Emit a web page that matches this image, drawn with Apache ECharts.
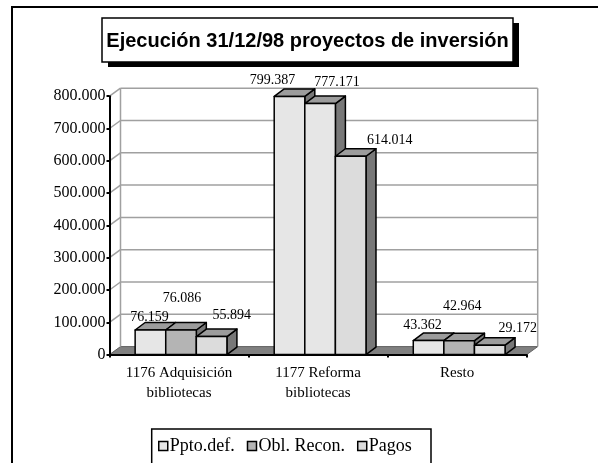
<!DOCTYPE html>
<html>
<head>
<meta charset="utf-8">
<script src="https://cdn.jsdelivr.net/npm/echarts@6/dist/echarts.min.js"></script>
<style>
html, body { margin: 0; padding: 0; background: #fff; }
#container { width: 598px; height: 463px; }
</style>
</head>
<body>
<div id="container"></div>
<script>
// data
var categories = ['1176 Adquisición\nbibliotecas', '1177 Reforma\nbibliotecas', 'Resto'];
var seriesNames = ['Ppto.def.', 'Obl. Recon.', 'Pagos'];
var pptoDef = [76159, 799387, 43362];
var oblRecon = [76086, 777171, 42964];
var pagos = [55894, 614014, 29172];
var yTicks = [0, 100000, 200000, 300000, 400000, 500000, 600000, 700000, 800000];
var titleText = 'Ejecución 31/12/98 proyectos de inversión';

// look
var serif = '"Liberation Serif", "Times New Roman", serif';
var frontColors = [
    ['#e6e6e6', '#e6e6e6', '#e6e6e6'],
    ['#b4b4b4', '#e6e6e6', '#b4b4b4'],
    ['#dcdcdc', '#dcdcdc', '#dcdcdc']
];
var topColor = '#9c9c9c';
var sideColor = '#787878';
// label shift from the top centre of each bar front, per series / category
var labelShift = [
    [[-1, -13], [-17, -16], [-6, -15]],
    [[1, -32], [17, -21], [3, -34]],
    [[20, -21], [39, -16], [28, -17]]
];
var WALL_DX = 11, WALL_DY = -8;
var BAR_DX = 10, BAR_DY = -7.5;

function fmt(v) {
    return String(v).replace(/\B(?=(\d{3})+(?!\d))/g, '.');
}

var dom = document.getElementById('container');
var myChart = echarts.init(dom, null, {renderer: 'canvas'});

function renderWalls(params, api) {
    var cs = params.coordSys;
    var x0 = cs.x, x1 = cs.x + cs.width;
    var y0 = api.coord([0, 0])[1];
    var yTop = api.coord([0, yTicks[yTicks.length - 1]])[1];
    var line = {stroke: '#a0a0a0', lineWidth: 1.5};
    var children = [];
    children.push({
        type: 'polygon',
        shape: {points: [[x0, y0], [x1, y0], [x1 + WALL_DX, y0 + WALL_DY], [x0 + WALL_DX, y0 + WALL_DY]]},
        style: {fill: '#808080', stroke: '#606060', lineWidth: 1}
    });
    children.push({
        type: 'line',
        shape: {x1: x0 + WALL_DX, y1: y0 + WALL_DY, x2: x0 + WALL_DX, y2: yTop + WALL_DY},
        style: line
    });
    children.push({
        type: 'line',
        shape: {x1: x1 + WALL_DX, y1: y0 + WALL_DY, x2: x1 + WALL_DX, y2: yTop + WALL_DY},
        style: line
    });
    yTicks.forEach(function (t) {
        if (t === 0) return;
        var y = api.coord([0, t])[1];
        children.push({
            type: 'line',
            shape: {x1: x0 + WALL_DX, y1: y + WALL_DY, x2: x1 + WALL_DX, y2: y + WALL_DY},
            style: line
        });
        children.push({
            type: 'line',
            shape: {x1: x0, y1: y, x2: x0 + WALL_DX, y2: y + WALL_DY},
            style: line
        });
    });
    return {type: 'group', children: children};
}

function makeBarRenderer(s) {
    return function (params, api) {
        var ci = api.value(0);
        var v = api.value(1);
        var c = api.coord([ci, v]);
        var base = api.coord([ci, 0]);
        var band = api.size([1, 0])[0];
        var w = band * 0.22;
        var xl = c[0] + 2 + (s - 1) * w - w / 2;
        var xr = xl + w;
        var yt = c[1];
        var yb = base[1];
        var edge = {stroke: '#000', lineWidth: 1.5, lineJoin: 'round'};
        var sh = labelShift[s][ci];
        return {
            type: 'group',
            children: [
                {
                    type: 'text',
                    style: {
                        text: fmt(v),
                        x: (xl + xr) / 2 + sh[0],
                        y: yt + sh[1],
                        align: 'center',
                        verticalAlign: 'middle',
                        font: '14px ' + serif,
                        fill: '#000'
                    }
                },
                {
                    type: 'polygon',
                    shape: {points: [[xr, yt], [xr + BAR_DX, yt + BAR_DY], [xr + BAR_DX, yb + BAR_DY], [xr, yb]]},
                    style: Object.assign({fill: sideColor}, edge)
                },
                {
                    type: 'polygon',
                    shape: {points: [[xl, yt], [xl + BAR_DX, yt + BAR_DY], [xr + BAR_DX, yt + BAR_DY], [xr, yt]]},
                    style: Object.assign({fill: topColor}, edge)
                },
                {
                    type: 'rect',
                    shape: {x: xl, y: yt, width: w, height: yb - yt},
                    style: Object.assign({fill: frontColors[s][ci]}, edge)
                }
            ]
        };
    };
}

var allValues = [pptoDef, oblRecon, pagos];

var barSeries = allValues.map(function (vals, s) {
    return {
        type: 'custom',
        name: seriesNames[s],
        z: 2,
        itemStyle: {color: frontColors[s][0]},
        encode: {x: 0, y: 1},
        data: vals.map(function (v, i) { return [i, v]; }),
        renderItem: makeBarRenderer(s)
    };
});

var option = {
    animation: false,
    backgroundColor: '#fff',
    grid: {left: 109.5, right: 71.3, top: 96.2, bottom: 108.4},
    graphic: [
        {
            type: 'polyline', z: 0,
            shape: {points: [[12, 470], [12, 7], [605, 7]]},
            style: {fill: null, stroke: '#000', lineWidth: 2}
        },
        {
            type: 'rect', z: 0,
            shape: {x: 108, y: 23, width: 411, height: 44},
            style: {fill: '#000'}
        },
        {
            type: 'rect', z: 1,
            shape: {x: 102, y: 18, width: 411, height: 44},
            style: {fill: '#fff', stroke: '#000', lineWidth: 1.5}
        },
        {
            type: 'text', z: 2,
            style: {
                text: titleText,
                x: 307.5, y: 41,
                align: 'center', verticalAlign: 'middle',
                textAlign: 'center', textVerticalAlign: 'middle',
                font: 'bold 20px "Liberation Sans", Arial, sans-serif',
                fill: '#000'
            }
        },
        {
            type: 'rect', z: 0,
            shape: {x: 151.7, y: 429, width: 279.3, height: 60},
            style: {fill: '#fff', stroke: '#000', lineWidth: 1.5}
        }
    ],
    legend: {
        left: 158,
        top: 437,
        padding: 0,
        itemWidth: 9,
        itemHeight: 9,
        itemGap: 12,
        icon: 'rect',
        itemStyle: {borderColor: '#000', borderWidth: 1.5},
        textStyle: {fontFamily: serif, fontSize: 18, color: '#000', padding: [0, 0, 0, -3]},
        data: seriesNames
    },
    xAxis: {
        type: 'category',
        data: categories,
        z: 3,
        axisLine: {lineStyle: {color: '#000', width: 2}},
        axisTick: {show: true, length: 3, lineStyle: {color: '#000', width: 2}},
        axisLabel: {
            fontFamily: serif, fontSize: 15, color: '#000',
            lineHeight: 20, margin: 8, interval: 0
        },
        splitLine: {show: false}
    },
    yAxis: {
        type: 'value',
        min: 0,
        max: yTicks[yTicks.length - 1],
        interval: yTicks[1] - yTicks[0],
        z: 3,
        axisLine: {show: true, lineStyle: {color: '#000', width: 2}},
        axisTick: {show: true, length: 3, lineStyle: {color: '#000', width: 2}},
        axisLabel: {
            fontFamily: serif, fontSize: 16, color: '#000', margin: 4,
            padding: [6, 0, 0, 0],
            formatter: function (v) { return fmt(v); }
        },
        splitLine: {show: false}
    },
    series: [
        {
            type: 'custom',
            name: 'walls',
            z: 1,
            silent: true,
            data: [[0, 0]],
            encode: {x: 0, y: 1},
            renderItem: renderWalls
        }
    ].concat(barSeries)
};

myChart.setOption(option);
</script>
</body>
</html>
